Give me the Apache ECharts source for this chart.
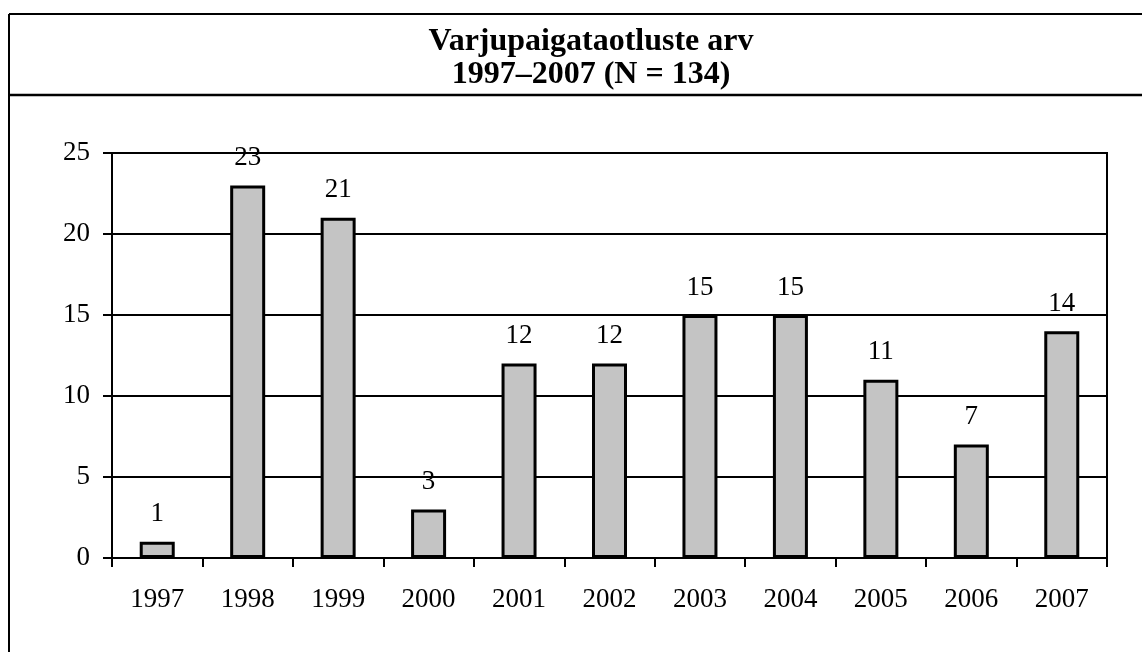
<!DOCTYPE html>
<html>
<head>
<meta charset="utf-8">
<script src="https://cdn.jsdelivr.net/npm/echarts@6/dist/echarts.min.js"></script>
<style>
  html, body { margin: 0; padding: 0; background: #fff; }
  #main { width: 1142px; height: 652px; }
</style>
</head>
<body>
<div id="main"></div>
<script>
// andmed
const years = ['1997', '1998', '1999', '2000', '2001', '2002', '2003', '2004', '2005', '2006', '2007'];
const applications = [1, 23, 21, 3, 12, 12, 15, 15, 11, 7, 14];
const titleLines = ['Varjupaigataotluste arv', '1997–2007 (N = 134)'];

const font = '"Liberation Serif", "Times New Roman", serif';
const chart = echarts.init(document.getElementById('main'));

const option = {
  animation: false,
  backgroundColor: '#fff',
  title: {
    text: titleLines.join('\n'),
    left: 586,
    top: 20,
    textAlign: 'center',
    textStyle: {
      fontFamily: font,
      fontWeight: 'bold',
      fontSize: 32,
      lineHeight: 33,
      color: '#000'
    }
  },
  // raam ümber joonise
  graphic: [
    { type: 'line', shape: { x1: 9, y1: 14, x2: 1142, y2: 14 }, style: { stroke: '#000', lineWidth: 2 } },
    { type: 'line', shape: { x1: 9, y1: 14, x2: 9, y2: 652 }, style: { stroke: '#000', lineWidth: 2 } },
    { type: 'line', shape: { x1: 9, y1: 95, x2: 1142, y2: 95 }, style: { stroke: '#000', lineWidth: 2.5 } }
  ],
  grid: {
    left: 112,
    right: 35,
    top: 153,
    bottom: 94,
    show: true,
    borderColor: '#000',
    borderWidth: 2
  },
  xAxis: {
    type: 'category',
    data: years,
    axisLine: { lineStyle: { color: '#000', width: 2 } },
    axisTick: { show: true, length: 9, lineStyle: { color: '#000', width: 2 } },
    axisLabel: { color: '#000', fontFamily: font, fontSize: 27, margin: 28 }
  },
  yAxis: {
    type: 'value',
    min: 0,
    max: 25,
    interval: 5,
    axisLine: { show: true, lineStyle: { color: '#000', width: 2 } },
    axisTick: { show: true, length: 9, lineStyle: { color: '#000', width: 2 } },
    axisLabel: { color: '#000', fontFamily: font, fontSize: 27, margin: 22 },
    splitLine: { show: true, lineStyle: { color: '#000', width: 2 } }
  },
  series: [{
    type: 'bar',
    data: applications,
    barWidth: 35,
    itemStyle: {
      color: '#c4c4c4',
      borderColor: '#000',
      borderWidth: 3
    },
    label: {
      show: true,
      position: 'top',
      distance: 14,
      color: '#000',
      fontFamily: font,
      fontSize: 27
    }
  }]
};

chart.setOption(option);
</script>
</body>
</html>
